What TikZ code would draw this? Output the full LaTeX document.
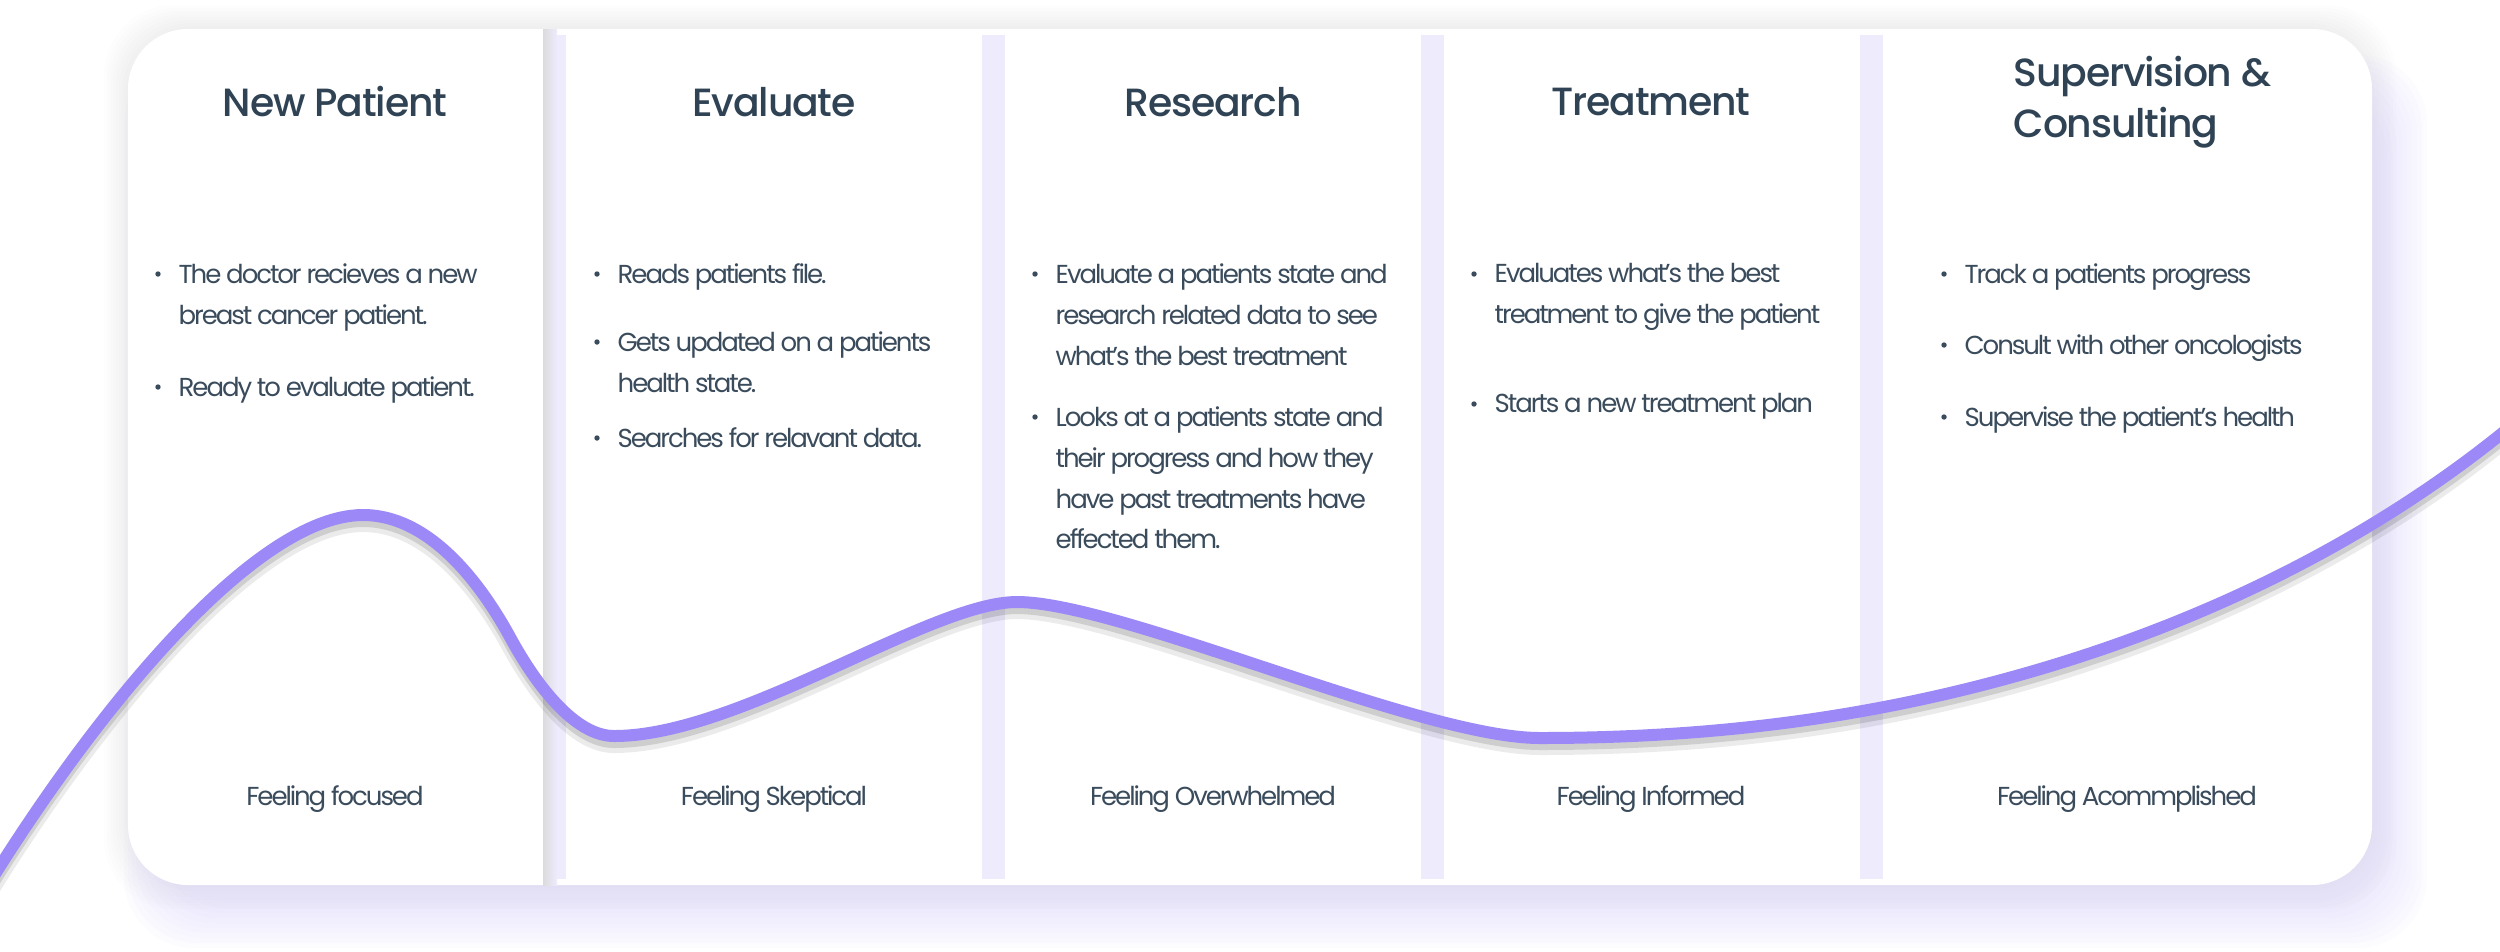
\documentclass[tikz,border=0pt]{standalone}
\usepackage{fontspec}
\setmainfont{Poppins}
\newfontfamily\headfont[LetterSpace=-3]{Poppins Medium}
\newfontfamily\bodyfont[LetterSpace=-8]{Poppins}
\usetikzlibrary{positioning, calc}
\definecolor{ink}{HTML}{3A4B5C}
\definecolor{headink}{HTML}{2F4355}
\definecolor{moodcol}{HTML}{9C89F7}
\definecolor{lanecol}{HTML}{EEEBFD}
\definecolor{glowcol}{HTML}{D9D2FA}
\tikzset{
    journey/.style={x=0.1mm, y=-0.1mm},
    heading/.style={font=\headfont\fontsize{11.2}{14.5}\selectfont, text=headink, inner sep=0pt, align=left},
    point/.style={font=\bodyfont\fontsize{7.4}{11.6}\selectfont, text=ink, inner sep=0pt, align=left, anchor=north west},
    feeling/.style={font=\bodyfont\fontsize{7.4}{11.6}\selectfont, text=ink, inner sep=0pt},
    lane/.style={fill=lanecol, draw=none},
    mood/.style={draw=moodcol, line width=1.2mm, line cap=round},
}
% one bullet point: name, x, top, text
\newcommand\bullpoint[4]{%
    \node[point] (#1) at (#2,#3) {#4};
    \fill[ink] ($(#1.north west)+(-20,11)$) circle (0.27mm);}
\newcommand\moodpath{(-30,915) .. controls (80,730) and (250,515) .. (363,515)
    .. controls (430,515) and (481,584) .. (510,637)
    .. controls (536,685) and (575,736) .. (614,736)
    .. controls (740,736) and (930,602) .. (1017,602)
    .. controls (1120,602) and (1420,738) .. (1540,738)
    .. controls (1720,738) and (1884,716) .. (2047,667)
    .. controls (2260,603) and (2420,505) .. (2530,410)}

\begin{document}
\begin{tikzpicture}[journey]
    \useasboundingbox (0,0) rectangle (2500,951);

    % soft halo and glow under the board
    \foreach \i in {1,...,8}
        \fill[black, fill opacity=0.006, rounded corners=7mm]
            (128-3*\i,29-3*\i) rectangle (2372+3*\i,885+3*\i);
    \foreach \i in {0,...,9}
        \fill[glowcol, fill opacity=0.075, rounded corners=7mm]
            (160-4*\i,90-4*\i) rectangle (2382+5*\i,903+5*\i);
    \fill[white, rounded corners=6mm] (128,29) rectangle (2372,885);

    % lanes between the stages
    \foreach \x in {543,982,1421,1860}
        \fill[lane] (\x,35) rectangle (\x+23,879);
    \shade[left color=black!14, right color=lanecol] (543,29) rectangle (557,885);

    % stage titles
    \node[heading] (t1) at (335,102) {New Patient};
    \node[heading] (t2) at (774,102) {Evaluate};
    \node[heading] (t3) at (1213,102) {Research};
    \node[heading] (t4) at (1651,102) {Treatment};
    \node[heading, anchor=west] (t5) at (2013,102) {Supervision \&\\Consulting};

    % what happens
    \bullpoint{p11}{178}{263}{The doctor recieves a new\\breast cancer patient.}
    \bullpoint{p12}{178}{376}{Ready to evaluate patient.}
    \bullpoint{p21}{617}{263}{Reads patients file.}
    \bullpoint{p22}{617}{331}{Gets updated on a patients\\health state.}
    \bullpoint{p23}{617}{427}{Searches for relavant data.}
    \bullpoint{p31}{1055}{263}{Evaluate a patients state and\\research related data to see\\what’s the best treatment}
    \bullpoint{p32}{1055}{406}{Looks at a patients state and\\their progress and how they\\have past treatments have\\effected them.}
    \bullpoint{p41}{1494}{263}{Evaluates what’s the best\\treatment to give the patient}
    \bullpoint{p42}{1494}{393}{Starts a new treatment plan}
    \bullpoint{p51}{1964}{263}{Track a patients progress}
    \bullpoint{p52}{1964}{334}{Consult with other oncologists}
    \bullpoint{p53}{1964}{406}{Supervise the patient’s health}

    % feelings
    \node[feeling] (f1) at (335,799) {Feeling focused};
    \node[feeling] (f2) at (774,799) {Feeling Skeptical};
    \node[feeling] (f3) at (1213,799) {Feeling Overwhelmed};
    \node[feeling] (f4) at (1651,799) {Feeling Informed};
    \node[feeling] (f5) at (2127,799) {Feeling Acommplished};

    % emotion curve
    \draw[black, opacity=0.08, line width=1.8mm, shift={(0,8)}] \moodpath;
    \draw[black, opacity=0.12, line width=1.2mm, shift={(0,6)}] \moodpath;
    \draw[mood] \moodpath;
\end{tikzpicture}
\end{document}
